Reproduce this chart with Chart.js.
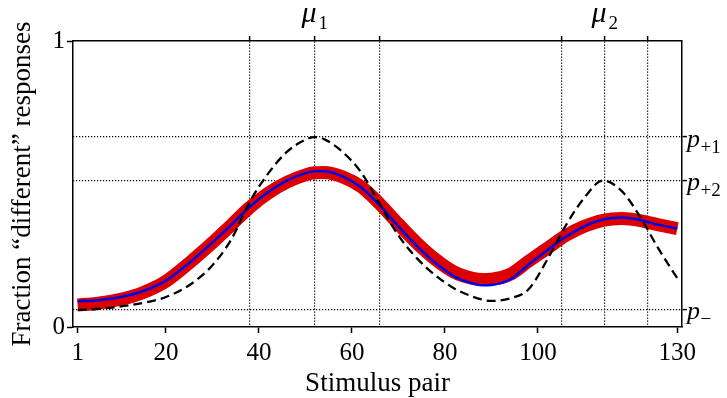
<!DOCTYPE html>
<html><head><meta charset="utf-8">
<script src="https://cdn.jsdelivr.net/npm/chart.js@4"></script>
<style>html,body{margin:0;padding:0;background:#fff}#wrap{width:727px;height:398px}</style>
</head><body><div id="wrap"><canvas id="c" width="727" height="398"></canvas></div>
<script>
// ---- data ----
const stimX = [1,5,10,15,20,25,30,34,38,42,46,50,52,54,58,62,66,70,74,78,82,86,88,90,94,98,102,106,110,114,118,122,126,130];
const fitBlue = [0.090,0.093,0.104,0.125,0.162,0.224,0.296,0.356,0.420,0.472,0.512,0.538,0.545,0.545,0.527,0.488,0.425,0.352,0.283,0.224,0.177,0.152,0.146,0.147,0.166,0.218,0.268,0.316,0.352,0.376,0.383,0.374,0.357,0.345];
const fitRed = [0.077,0.082,0.096,0.120,0.160,0.224,0.295,0.356,0.418,0.468,0.506,0.532,0.539,0.540,0.525,0.490,0.430,0.360,0.293,0.236,0.192,0.170,0.166,0.167,0.184,0.230,0.275,0.320,0.352,0.373,0.379,0.372,0.357,0.344];
const modelDashed = [0.060,0.063,0.071,0.084,0.105,0.146,0.216,0.305,0.437,0.537,0.612,0.655,0.664,0.657,0.612,0.540,0.430,0.320,0.240,0.180,0.135,0.106,0.096,0.091,0.100,0.132,0.235,0.355,0.452,0.512,0.476,0.385,0.272,0.170];
const xTickValues = [1,20,40,60,80,100,130];
const yTickValues = [0,1];
const muTicks = [38,52,66,105.2,114.4,123.6];
const muNames = ['','μ_1','','','μ_2',''];
const pTicks = [0.664,0.513,0.062];
const pNames = ['p_+1','p_+2','p_−'];
const xTitle = 'Stimulus pair';
const yTitle = 'Fraction “different” responses';

const FONT = "'Liberation Serif','Times New Roman',serif";
Chart.defaults.font.family = FONT;
Chart.defaults.color = '#000';

const mk = ys => stimX.map((x,i)=>({x:x, y:ys[i]}));

const subLabels = {
  id:'subLabels',
  afterDraw(chart){
    const c = chart.ctx, sx = chart.scales.x2, sy = chart.scales.y2;
    const top = chart.chartArea.top, right = chart.chartArea.right;
    c.save(); c.fillStyle = '#000'; c.textBaseline = 'alphabetic'; c.textAlign = 'left';
    muTicks.forEach((v,i)=>{
      const nm = muNames[i]; if(!nm) return;
      const [b,s] = nm.split('_');
      c.font = 'italic 30px ' + FONT; const wb = c.measureText(b).width;
      c.font = '19px ' + FONT; const ws = c.measureText(s).width;
      const gap = 2;
      const x0 = sx.getPixelForValue(v) - (wb+gap+ws)/2;
      c.font = 'italic 30px ' + FONT; c.fillText(b, x0, top - 19);
      c.font = '19px ' + FONT; c.fillText(s, x0 + wb + gap, top - 12);
    });
    pTicks.forEach((v,i)=>{
      const [b,s] = pNames[i].split('_');
      const y = sy.getPixelForValue(v);
      const x0 = right + 5;
      c.font = 'italic 26px ' + FONT; const wb = c.measureText(b).width;
      c.fillText(b, x0, y + 10);
      c.font = '19px ' + FONT; c.fillText(s, x0 + wb + 0.5, y + 15.5);
    });
    c.restore();
  }
};

const dottedGrid = { drawOnChartArea:true, drawTicks:true, color:'#000', lineWidth:1.2, tickColor:'#000', tickWidth:1.5, tickBorderDash:[], tickLength:5 };
const dottedBorder = { color:'#000', width:1.5, dash:[1.2,1.8] };

new Chart(document.getElementById('c'), {
  type:'line',
  data:{ datasets:[
    { label:'Model', data:mk(modelDashed), borderColor:'#000', borderWidth:2.3, borderDash:[9,5], pointRadius:0, cubicInterpolationMode:'monotone', fill:false, order:0 },
    { label:'Fit', data:mk(fitBlue), borderColor:'#0000e6', borderWidth:2.5, pointRadius:0, cubicInterpolationMode:'monotone', fill:false, order:1 },
    { label:'Data', data:mk(fitRed), borderColor:'#dd0000', borderWidth:13, borderCapStyle:'butt', pointRadius:0, cubicInterpolationMode:'monotone', fill:false, order:2 }
  ]},
  options:{
    responsive:false, animation:false, devicePixelRatio:1,
    layout:{padding:0},
    plugins:{legend:{display:false}, tooltip:{enabled:false}},
    scales:{
      x:{ type:'linear', position:'bottom', min:0, max:131,
        afterBuildTicks: s => { s.ticks = xTickValues.map(v=>({value:v})); },
        afterFit: s => { s.height = 71; },
        ticks:{ font:{size:25, lineHeight:1.2}, padding:5, maxRotation:0, autoSkip:false, callback: v => String(v) },
        grid:{ drawOnChartArea:false, drawTicks:true, tickLength:6, tickColor:'#000', tickWidth:1.5 },
        border:{ color:'#000', width:1.5 },
        title:{ display:true, text:xTitle, font:{size:27, lineHeight:1.0}, padding:{top:0, bottom:0.5} }
      },
      x2:{ type:'linear', position:'top', min:0, max:131,
        afterBuildTicks: s => { s.ticks = muTicks.map(v=>({value:v})); },
        afterFit: s => { s.height = 41; },
        ticks:{ display:false },
        grid:dottedGrid,
        border:dottedBorder
      },
      y:{ type:'linear', position:'left', min:0, max:1,
        afterBuildTicks: s => { s.ticks = yTickValues.map(v=>({value:v})); },
        afterFit: s => { s.width = 73; },
        ticks:{ font:{size:25}, padding:2, callback: v => String(v) },
        grid:{ drawOnChartArea:false, drawTicks:true, tickLength:6, tickColor:'#000', tickWidth:1.5 },
        border:{ color:'#000', width:1.5 },
        title:{ display:true, text:yTitle, font:{size:27, lineHeight:1.0}, padding:{top:9.5, bottom:0} }
      },
      y2:{ type:'linear', position:'right', min:0, max:1,
        afterBuildTicks: s => { s.ticks = pTicks.map(v=>({value:v})); },
        afterFit: s => { s.width = 45; },
        ticks:{ display:false },
        grid:dottedGrid,
        border:dottedBorder
      }
    }
  },
  plugins:[subLabels]
});
</script>
</body></html>
